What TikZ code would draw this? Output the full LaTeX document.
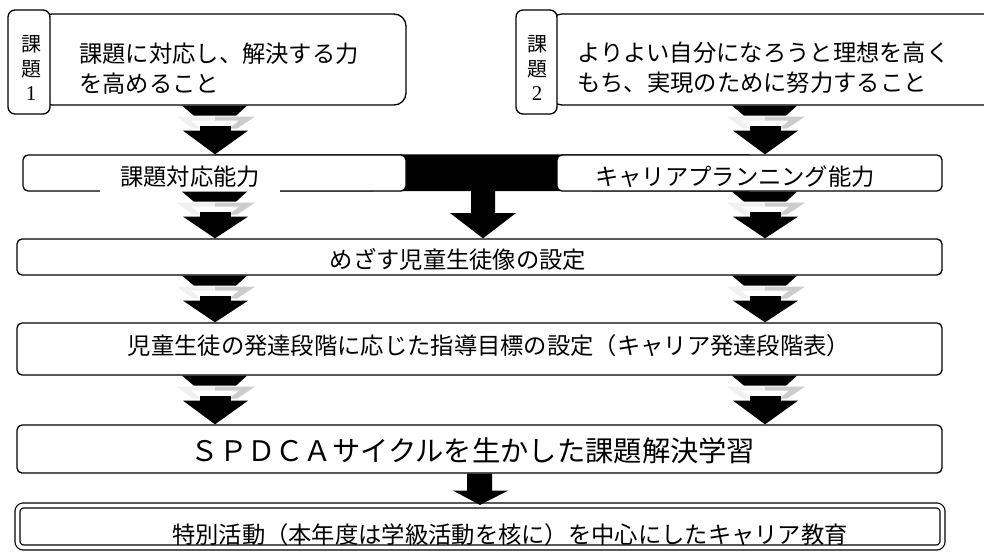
\documentclass[tikz,border=0pt]{standalone}
\usepackage{fontspec}
\newfontfamily\jp{Noto Sans CJK JP}
\newfontfamily\num{Liberation Serif}
\usetikzlibrary{calc,backgrounds}

\tikzset{
  box/.style={draw,line width=1.3pt,rounded corners=5pt,fill=white,inner sep=0pt},
  tab/.style={draw,line width=1.3pt,rounded corners=7pt,fill=white,inner sep=0pt,minimum width=42pt,minimum height=104pt},
  txt/.style={font=\jp\fontsize{23.3}{30}\selectfont,inner sep=0pt},
  tabtxt/.style={font=\jp\fontsize{20}{24.5}\selectfont,inner sep=0pt,align=center},
}

\begin{document}
\begin{tikzpicture}[x=1pt,y=-1pt]
  \useasboundingbox (0,0) rectangle (984,551);
  \clip (0,0) rectangle (984,551);
  % two tasks
  \node[box,rounded corners=12pt,minimum width=366pt,minimum height=91pt] (kadai1) at (223,59.5) {};
  \node[tab] (tab1) at (29,62) {};
  \node[tabtxt] (tabtxt1) at (31,68) {課\\題\\{\num\fontsize{21}{24.5}\selectfont 1}};
  \node[txt,anchor=west,align=left] (kadaitxt1) at (79,69) {課題に対応し、解決する力\\を高めること};
  \node[box,rounded corners=12pt,minimum width=460pt,minimum height=91pt] (kadai2) at (780,59.5) {};
  \node[tab,minimum width=41pt] (tab2) at (536.5,62) {};
  \node[tabtxt] (tabtxt2) at (537,68) {課\\題\\{\num\fontsize{21}{24.5}\selectfont 2}};
  \node[txt,anchor=west,align=left] (kadaitxt2) at (577,68) {よりよい自分になろうと理想を高く\\もち、実現のために努力すること};
  % abilities
  \node[box,minimum width=383pt,minimum height=36pt] (taiou) at (214.5,173) {};
  \node[txt,fill=white,minimum width=180pt,minimum height=32pt] (taioutxt) at (190,177) {課題対応能力};
  \node[box,minimum width=385pt,minimum height=36pt] (career) at (749.5,173) {};
  \node[txt] (careertxt) at (735,177) {キャリアプランニング能力};
  % rows
  \node[box,minimum width=925pt,minimum height=36pt] (zou) at (479.5,257) {};
  \node[txt] (zoutxt) at (458,259) {めざす児童生徒像の設定};
  \node[box,minimum width=925pt,minimum height=52pt] (mokuhyo) at (479.5,349) {};
  \node[txt] (mokuhyotxt) at (489,346) {児童生徒の発達段階に応じた指導目標の設定（キャリア発達段階表）};
  \node[box,minimum width=925pt,minimum height=48pt] (spdca) at (479.5,449) {};
  \node[txt,font=\jp\fontsize{28.3}{30}\selectfont] (spdcatxt) at (473,451) {ＳＰＤＣＡサイクルを生かした課題解決学習};
  \node[box,rounded corners=6pt,line width=1.2pt,double=white,double distance=3.8pt,minimum width=925pt,minimum height=42pt] (tokkatsu) at (480,526.5) {};
  \node[txt] (tokkatsutxt) at (510,535) {特別活動（本年度は学級活動を核に）を中心にしたキャリア教育};

  % join of the two abilities
  \coordinate (J) at (483,0);
  \begin{scope}[on background layer]
    \fill (taiou.north) -- (career.north) -- (career.south) -- (495,191) -- (495,213) -- (516,213)
      -- (J |- zou.north) -- (450,213) -- (471,213) -- (471,191) -- (taiou.south) -- cycle;
  \end{scope}

  % chevrons
  \coordinate (L) at (215,0);
  \coordinate (R) at (765,0);
  \foreach \c/\a/\b in {L/kadai1/taiou, R/kadai2/career, L/taiou/zou, R/career/zou,
                        L/zou/mokuhyo, R/zou/mokuhyo, L/mokuhyo/spdca, R/mokuhyo/spdca}{
    \coordinate (p) at (\c |- \a.south);
    \coordinate (q) at (\c |- \b.north);
    \fill ($(p)+(-33,0)$) -- ($(p)+(32,0)$) -- ($(p)+(21,10)$) -- ($(p)+(-21,10)$) -- cycle;
    \fill[gray!12] ($(p)+(-38,11)$) -- ($(p)+(0,11)$) -- ($(p)+(0,15)$) -- ($(p)+(-24,15)$)
      -- ($(p)+(-14,23)$) -- ($(p)+(-22,23)$) -- cycle;
    \fill[gray!40] ($(p)+(40,11)$) -- ($(p)+(0,11)$) -- ($(p)+(0,15)$) -- ($(p)+(24,15)$)
      -- ($(p)+(14,23)$) -- ($(p)+(22,23)$) -- cycle;
    \fill ($(p)+(-15,20)$) rectangle ($(p)+(16,25)$);
    \fill ($(p)+(-32,25)$) -- ($(p)+(33,25)$) -- (q) -- cycle;
  }

  % last arrow
  \coordinate (K) at (480,0);
  \coordinate (a) at (K |- spdca.south);
  \fill ($(a)+(-13,0)$) -- ($(a)+(12,0)$) -- ($(a)+(12,17)$) -- ($(a)+(28,17)$)
    -- (K |- tokkatsu.north) -- ($(a)+(-27,17)$) -- ($(a)+(-13,17)$) -- cycle;
\end{tikzpicture}
\end{document}
